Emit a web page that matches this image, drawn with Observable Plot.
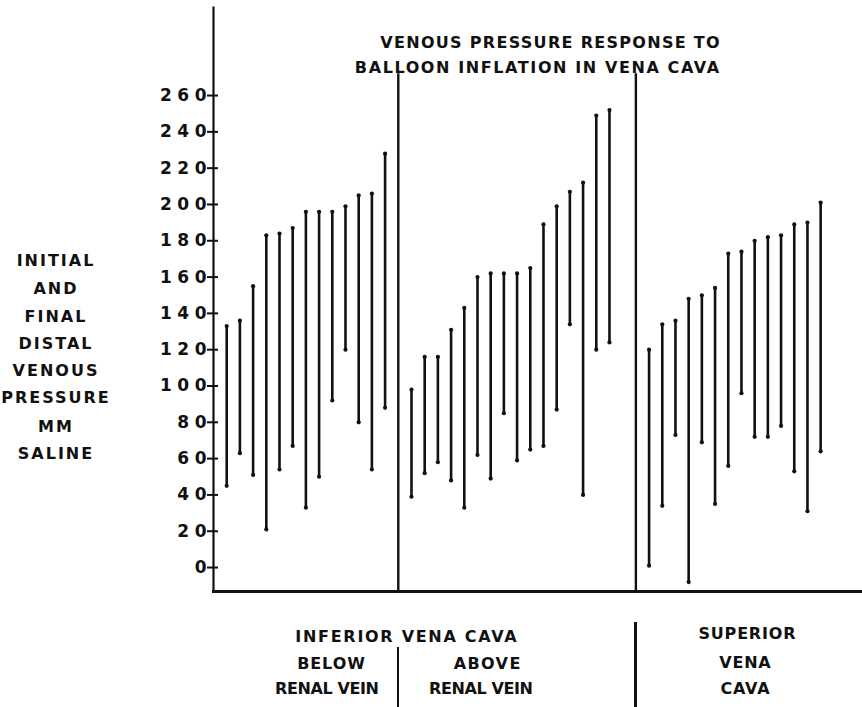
<!DOCTYPE html>
<html>
<head>
<meta charset="utf-8">
<script src="https://cdn.jsdelivr.net/npm/d3@7"></script>
<script src="https://cdn.jsdelivr.net/npm/@observablehq/plot@0.6"></script>
<style>
  html, body { margin: 0; padding: 0; background: #fff; }
  #wrap { position: relative; width: 862px; height: 707px; overflow: hidden; }
  #wrap svg { position: absolute; left: 0; top: 0; }
  .lbl { position: absolute; font-family: "DejaVu Sans", sans-serif; font-weight: bold; color: #111; white-space: nowrap; }
  svg g[aria-label="y-axis tick label"] text { letter-spacing: 5.5px; }
</style>
</head>
<body>
<div id="wrap"></div>
<script>
// ---- data (mm saline) ----
const groups = ["Below renal vein", "Above renal vein", "Superior vena cava"];
const belowTop    = [133, 136, 155, 183, 184, 187, 196, 196, 196, 199, 205, 206, 228];
const belowBottom = [ 45,  63,  51,  21,  54,  67,  33,  50,  92, 120,  80,  54,  88];
const aboveTop    = [ 98, 116, 116, 131, 143, 160, 162, 162, 162, 165, 189, 199, 207, 212, 249, 252];
const aboveBottom = [ 39,  52,  58,  48,  33,  62,  49,  85,  59,  65,  67,  87, 134,  40, 120, 124];
const svcTop      = [120, 134, 136, 148, 150, 154, 173, 174, 180, 182, 183, 189, 190, 201];
const svcBottom   = [  1,  34,  73,  -8,  69,  35,  56,  96,  72,  72,  78,  53,  31,  64];
const yTicks = [0, 20, 40, 60, 80, 100, 120, 140, 160, 180, 200, 220, 240, 260];

// ---- build table: each group laid out in slots, dividers between groups ----
const series = [[belowTop, belowBottom], [aboveTop, aboveBottom], [svcTop, svcBottom]];
const gapBefore = [0, 1, 2];   // empty slots before the divider preceding each group
const rows = [];
const dividers = [];
let slot = 0;
series.forEach(([tops, bottoms], g) => {
  if (g > 0) { slot += gapBefore[g]; dividers.push(slot); }
  tops.forEach((t, i) => {
    slot += 1;
    rows.push({group: groups[g], pos: slot, top: t, bottom: bottoms[i]});
  });
});

const yMin = -13.2, yMax = 308.5, xMax = 49.17;
const dividerTop = 272;

const chart = Plot.plot({
  width: 862,
  height: 707,
  marginLeft: 213,
  marginRight: 0,
  marginTop: 7,
  marginBottom: 116,
  x: {domain: [0, xMax], axis: null},
  y: {domain: [yMin, yMax]},
  style: {background: "transparent", color: "#111"},
  marks: [
    Plot.axisY({ticks: yTicks, tickSize: 11, dx: 5, tickPadding: -4.5, tickFormat: d => String(d),
      fontSize: 17, fontWeight: "bold", fontFamily: "DejaVu Sans, sans-serif",
      strokeWidth: 2, label: null}),
    Plot.frame({anchor: "left", strokeWidth: 2.2, stroke: "#111"}),
    Plot.frame({anchor: "bottom", strokeWidth: 3, stroke: "#111"}),
    Plot.ruleX(dividers, {y1: dividerTop, y2: yMin, strokeWidth: 2.4, stroke: "#111"}),
    Plot.ruleX(rows, {x: "pos", y1: "bottom", y2: "top", strokeWidth: 2.6, stroke: "#111"}),
    Plot.dot(rows, {x: "pos", y: "top", r: 2.1, fill: "#111", stroke: null}),
    Plot.dot(rows, {x: "pos", y: "bottom", r: 2.1, fill: "#111", stroke: null})
  ]
});
const wrap = document.getElementById("wrap");
wrap.appendChild(chart);

// separators below the axis (in the label area), aligned with dividers
const xs = d3.scaleLinear([0, xMax], [213, 862]);
const sep = (x, top) => {
  const d = document.createElement("div");
  d.style.cssText = `position:absolute;left:${x - 1.2}px;top:${top}px;width:2.4px;height:${707 - top}px;background:#111;`;
  wrap.appendChild(d);
};
sep(xs(dividers[0]), 647);
sep(xs(dividers[1]), 622);

// text labels (cap top positioned)
function label(text, cx, capTop, size, spacing) {
  const d = document.createElement("div");
  d.className = "lbl";
  d.textContent = text;
  d.style.fontSize = size + "px";
  d.style.lineHeight = size + "px";
  d.style.letterSpacing = spacing + "px";
  d.style.left = (cx + spacing / 2) + "px";
  d.style.top = (capTop - 0.12 * size) + "px";
  d.style.transform = "translateX(-50%)";
  wrap.appendChild(d);
}
label("VENOUS PRESSURE RESPONSE TO", 550, 37, 16, 1.3);
label("BALLOON INFLATION IN VENA CAVA", 537, 62, 16, 1.6);

const yLabel = ["INITIAL", "AND", "FINAL", "DISTAL", "VENOUS", "PRESSURE", "MM", "SALINE"];
const yLabelTops = [255, 283, 311, 338, 365, 392, 421, 448];
yLabel.forEach((t, i) => label(t, 55, yLabelTops[i], 16, 2));

label("INFERIOR VENA CAVA", 406, 631, 16, 1.7);
label("BELOW", 331, 658, 16, 0.9);
label("RENAL VEIN", 327, 683, 16, -0.4);
label("ABOVE", 487, 658, 16, 1.4);
label("RENAL VEIN", 481, 683, 16, -0.4);
label("SUPERIOR", 747, 628, 16, 0.8);
label("VENA", 745, 657, 16, 0.8);
label("CAVA", 745, 683, 16, 0.8);
</script>
</body>
</html>
